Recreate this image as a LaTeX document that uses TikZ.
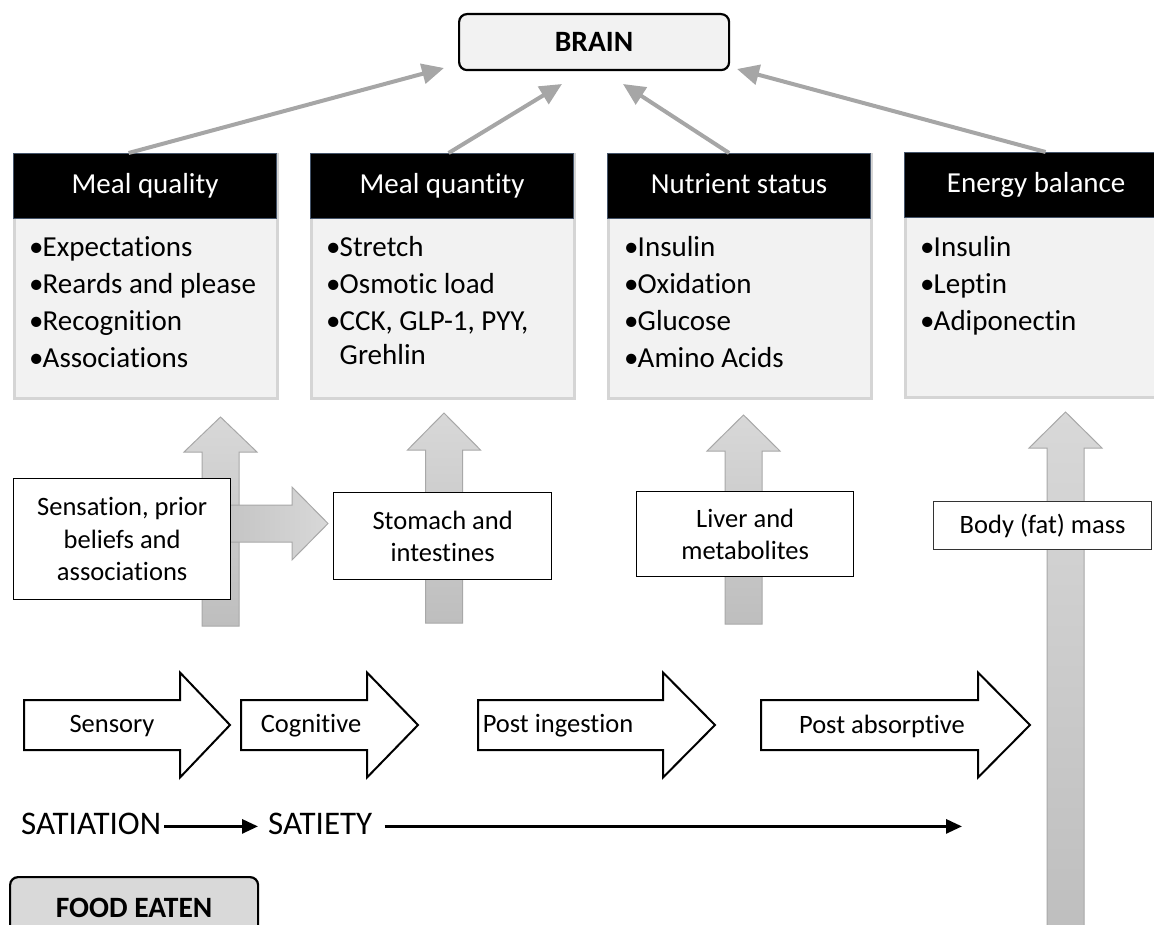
\documentclass[tikz,border=0pt]{standalone}
\usepackage{fontspec}
\setmainfont{Carlito}[Ligatures=NoCommon]
\usetikzlibrary{arrows.meta}

\definecolor{panelfill}{HTML}{F2F2F2}
\definecolor{panelline}{HTML}{D5D5D5}
\definecolor{headline}{HTML}{44546A}
\definecolor{linkgray}{HTML}{A6A6A6}
\definecolor{flowtop}{HTML}{D8D8D8}
\definecolor{flowbot}{HTML}{BEBEBE}
\definecolor{flowedge}{HTML}{A8A8A8}
\definecolor{foodfill}{HTML}{D9D9D9}

% grey upward block arrow: centre x, tip y, head base y, bottom y
\newcommand\upflowshape[4]{%
  \draw[upflow] (#1-18.5,#4) -- (#1-18.5,#3) -- (#1-36.5,#3) -- (#1,#2)
    -- (#1+36.5,#3) -- (#1+18.5,#3) -- (#1+18.5,#4) -- cycle;}
% white stage arrow: left x, head base x, tip x, centre y
\newcommand\stageshape[4]{%
  \draw[stage] (#1,#4-25) -- (#2,#4-25) -- (#2,#4-52.5) -- (#3,#4)
    -- (#2,#4+52.5) -- (#2,#4+25) -- (#1,#4+25) -- cycle;}
\newcommand\itm{\makebox[13.5pt][l]{•}}

\begin{document}
\begin{tikzpicture}[x=1pt,y=-1pt,
  header/.style={draw=headline, line width=1.2pt, fill=black, text=white,
    minimum width=263pt, minimum height=65pt, anchor=north west, inner sep=0pt,
    text height=20pt, text depth=6pt, font=\fontsize{29}{34}\selectfont},
  panel/.style={draw=panelline, line width=2.5pt, fill=panelfill,
    minimum width=263pt, minimum height=244pt, anchor=north west, inner sep=0pt},
  items/.style={anchor=base west, inner sep=0pt, font=\fontsize{29}{37}\selectfont},
  source/.style={draw=black, line width=1.3pt, fill=white, align=center,
    inner sep=0pt, anchor=north west, font=\fontsize{26.5}{32.5}\selectfont},
  stage/.style={draw=black, line width=2pt, fill=white},
  stagetext/.style={inner sep=0pt, font=\fontsize{26.5}{32}\selectfont},
  upflow/.style={draw=flowedge, line width=1pt, top color=flowtop, bottom color=flowbot},
  sideflow/.style={draw=flowedge, line width=1pt, left color=flowbot!80!flowtop, right color=flowtop},
  link/.style={draw=linkgray, line width=4pt, -{Triangle[length=22pt,width=20pt]}},
  seq/.style={draw=black, line width=3pt, -{Triangle[length=16pt,width=14pt]}},
  roundbox/.style={draw=black, line width=2.2pt, rounded corners=8pt, anchor=north west,
    inner sep=0pt, font=\fontsize{29.5}{34}\selectfont\bfseries},
  phase/.style={inner sep=0pt, anchor=base west, font=\fontsize{33}{38}\selectfont}
]
\useasboundingbox (0,0) rectangle (1154,925);
\clip (0,0) rectangle (1154,925);

% brain
\node[roundbox, fill=panelfill, minimum width=270pt, minimum height=56pt] (brain) at (458,13) {BRAIN};

% signal panels
\node[panel] (pq) at (13,153) {};
\node[panel] (pn) at (310,153) {};
\node[panel] (ps) at (607,153) {};
\node[panel] (pe) at (904,152) {};
\node[header] (hq) at (13,153) {Meal quality};
\node[header] (hn) at (310,153) {Meal quantity};
\node[header] (hs) at (607,153) {Nutrient status};
\node[header] (he) at (904,152) {Energy balance};

\node[items] (iq) at (29,257) {\parbox[t]{250pt}{\raggedright
  \itm Expectations\\ \itm Reards and please\\ \itm Recognition\\ \itm Associations}};
\node[items] (in) at (326,257) {\parbox[t]{250pt}{\raggedright
  \itm Stretch\\ \itm Osmotic load\\ \itm CCK, GLP-1, PYY,\\[-3pt] \hspace*{13.5pt}Grehlin}};
\node[items] (is) at (624,257) {\parbox[t]{250pt}{\raggedright
  \itm Insulin\\ \itm Oxidation\\ \itm Glucose\\ \itm Amino Acids}};
\node[items] (ie) at (920,257) {\parbox[t]{250pt}{\raggedright
  \itm Insulin\\ \itm Leptin\\ \itm Adiponectin}};

% links up to the brain
\coordinate (t1) at (444,68);
\coordinate (t2) at (562,84);
\coordinate (t3) at (623,84);
\coordinate (t4) at (737,69);
\draw[link] ([xshift=-16.5pt]hq.north) -- (t1);
\draw[link] ([xshift=6.5pt]hn.north) -- (t2);
\draw[link] ([xshift=-10pt]hs.north) -- (t3);
\draw[link] ([xshift=9.5pt]he.north) -- (t4);

% grey block arrows feeding the panels
\upflowshape{220.5}{417}{452}{626}
\upflowshape{444}{413}{450}{623}
\upflowshape{743.5}{415}{451}{624}
\upflowshape{1065.5}{412}{448}{940}
\draw[sideflow] (222,505) -- (292,505) -- (292,487) -- (328,523.5) -- (292,560)
  -- (292,542) -- (222,542) -- cycle;

% sources
\node[source, minimum width=217pt, minimum height=121pt] (sens) at (13,478)
  {Sensation, prior\\beliefs and\\associations};
\node[source, minimum width=218pt, minimum height=87pt] (stom) at (333,492)
  {Stomach and\\intestines};
\node[source, minimum width=217pt, minimum height=85pt] (liver) at (636,491)
  {Liver and\\metabolites};
\node[source, draw=black!80, minimum width=218pt, minimum height=48pt] (body) at (933,501)
  {Body (fat) mass};

% stages
\stageshape{24}{180}{230}{725}
\stageshape{241}{367}{418}{725}
\stageshape{478}{663}{715}{725}
\stageshape{761}{978}{1030}{725}
\node[stagetext] (sensory) at (112,726) {Sensory};
\node[stagetext] (cognitive) at (311,726) {Cognitive};
\node[stagetext] (postin) at (558,726) {Post ingestion};
\node[stagetext] (postab) at (882,726) {Post absorptive};

% satiation sequence
\node[phase] (sat) at (21,834) {SATIATION};
\node[phase] (sty) at (268,834) {SATIETY};
\coordinate (seqx) at (962,0);
\draw[seq, shorten <=3pt, shorten >=10pt] ([yshift=-3pt]sat.east) -- ([yshift=-3pt]sty.west);
\draw[seq, shorten <=12pt] ([yshift=-3pt]sty.east) -- ([yshift=-3pt]sty.east -| seqx);

% food eaten
\node[roundbox, fill=foodfill, minimum width=248pt, minimum height=62pt] (food) at (9,876) {FOOD EATEN};
\end{tikzpicture}
\end{document}
